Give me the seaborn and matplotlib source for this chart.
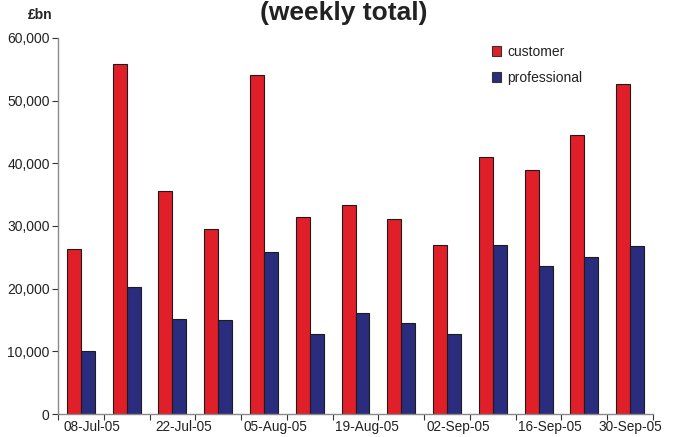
import matplotlib
matplotlib.use("Agg")
import matplotlib.pyplot as plt
from matplotlib.patches import Patch
from matplotlib.transforms import ScaledTranslation
from matplotlib.ticker import FuncFormatter, FixedLocator
import seaborn as sns
import pandas as pd

# Weekly totals (£bn)
weeks = ["08-Jul-05", "15-Jul-05", "22-Jul-05", "29-Jul-05", "05-Aug-05",
         "12-Aug-05", "19-Aug-05", "26-Aug-05", "02-Sep-05", "09-Sep-05",
         "16-Sep-05", "23-Sep-05", "30-Sep-05"]
customer = [26400, 55800, 35500, 29500, 54100, 31500, 33300,
            31100, 27000, 41000, 39000, 44500, 52600]
professional = [10100, 20200, 15100, 15000, 25900, 12700, 16100,
                14500, 12700, 26900, 23600, 25000, 26800]
series_names = ["customer", "professional"]
y_ticks = [0, 10000, 20000, 30000, 40000, 50000, 60000]

RED = "#E01F29"
NAVY = "#2A2C7E"

df = pd.DataFrame({
    "week": weeks * 2,
    "value": customer + professional,
    "series": [series_names[0]] * len(weeks) + [series_names[1]] * len(weeks),
})

sns.set_theme(style="white")
plt.rcParams["font.family"] = ["Liberation Sans", "DejaVu Sans"]

W, H = 687, 437
fig = plt.figure(figsize=(W / 100, H / 100), dpi=100)
ax = fig.add_axes([58 / W, 23 / H, (653 - 58) / W, (414 - 37.9) / H])

sns.barplot(data=df, x="week", y="value", hue="series", order=weeks,
            hue_order=series_names, palette=[RED, NAVY], saturation=1,
            width=0.61, edgecolor="#1c1c1c", linewidth=0.8, legend=False,
            ax=ax)

ax.set_xlim(-0.5, len(weeks) - 0.5)
ax.set_ylim(0, 60000)
ax.set_xlabel("")
ax.set_ylabel("")

# y axis
ax.set_yticks(y_ticks)
ax.yaxis.set_major_formatter(FuncFormatter(lambda v, p: f"{int(v):,}"))
ax.tick_params(axis="y", which="major", direction="out", length=4, width=0.8,
               color="#333333", pad=2, labelsize=10, labelcolor="#222222",
               left=True)

# x axis: tick marks on week boundaries, labels every other week
ax.xaxis.set_minor_locator(FixedLocator([i - 0.5 for i in range(len(weeks) + 1)]))
label_pos = list(range(0, len(weeks), 2))
ax.set_xticks(label_pos)
ax.set_xticklabels([weeks[i] for i in label_pos])
ax.tick_params(axis="x", which="major", length=0, pad=4.5, labelsize=9.8,
               labelcolor="#222222")
ax.tick_params(axis="x", which="minor", direction="out", length=4.5, width=0.8,
               color="#333333", bottom=True)
shift = ScaledTranslation(11 / 100, 0, fig.dpi_scale_trans)
for lbl in ax.get_xticklabels()[:-1]:
    lbl.set_transform(lbl.get_transform() + shift)

for side in ("top", "right"):
    ax.spines[side].set_visible(False)
for side in ("left", "bottom"):
    ax.spines[side].set_color("#8a8a8a")
    ax.spines[side].set_linewidth(1.0)

# legend
handles = [Patch(facecolor=RED, edgecolor="#333333", linewidth=0.8),
           Patch(facecolor=NAVY, edgecolor="#333333", linewidth=0.8)]
fig.legend(handles, series_names, loc="upper left",
           bbox_to_anchor=(485 / W, 1 - 38 / H), frameon=False,
           fontsize=10, handlelength=0.65, handleheight=0.65,
           handletextpad=0.45, labelspacing=0.85, borderpad=0,
           labelcolor="#222222")

# titles
fig.text(0.5, 1 - 20 / H, "(weekly total)", ha="center", va="baseline",
         fontsize=19, fontweight="bold", color="#222222")
fig.text(40 / W, 1 - 15 / H, "£bn", ha="center", va="center",
         fontsize=10, fontweight="bold", color="#222222")

fig.savefig("out.png", dpi=100)
